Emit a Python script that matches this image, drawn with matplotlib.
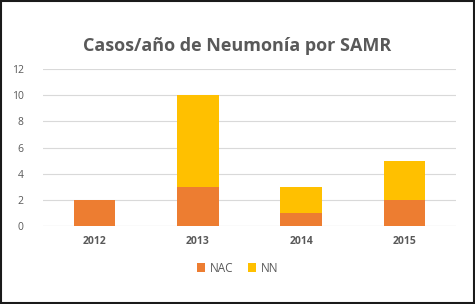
import matplotlib
matplotlib.use("Agg")
import matplotlib.pyplot as plt
from matplotlib.patches import Rectangle

years = ["2012", "2013", "2014", "2015"]
nac = [2, 3, 1, 2]
nn = [0, 7, 2, 3]
yticks = [0, 2, 4, 6, 8, 10, 12]

plt.rcParams['font.family'] = ['Open Sans', 'DejaVu Sans']

fig = plt.figure(figsize=(4.75, 3.04), dpi=100)
ax = fig.add_axes([0.0905, 0.2566, 0.8695, 0.5164])

x = range(len(years))
ax.bar(x, nac, width=0.4, color="#ED7D31", label="NAC", zorder=3)
ax.bar(x, nn, width=0.4, bottom=nac, color="#FFC000", label="NN", zorder=3)

ax.set_xlim(-0.5, len(years) - 0.5)
ax.set_ylim(0, 12)
ax.set_yticks(yticks)
ax.set_xticks(list(x))
ax.set_xticklabels(years, fontsize=7.5, fontweight="bold", color="#595959")
ax.tick_params(axis="y", labelsize=7.5, labelcolor="#595959", length=0, pad=14)
ax.tick_params(axis="x", length=0, pad=7)
ax.grid(axis="y", color="#D9D9D9", linewidth=0.8, zorder=0)
for s in ax.spines.values():
    s.set_visible(False)
ax.axhline(0, color="#D9D9D9", linewidth=0.8, zorder=1)

fig.text(0.5, 0.85, "Casos/año de Neumonía por SAMR", ha="center", va="center",
         fontsize=13, fontweight="bold", color="#595959")

handles, labels = ax.get_legend_handles_labels()
fig.legend(handles, labels, loc="center", bbox_to_anchor=(0.5, 0.118), ncol=2,
           frameon=False, fontsize=8.5, handlelength=0.7, handleheight=0.7,
           columnspacing=1.2, handletextpad=0.4, labelcolor="#595959")

fig.patches.append(Rectangle((0.002, 0.003), 0.995, 0.994, transform=fig.transFigure,
                             fill=False, edgecolor="#1a1a1a", linewidth=1.5))

fig.savefig("out.png", dpi=100, facecolor="white")
